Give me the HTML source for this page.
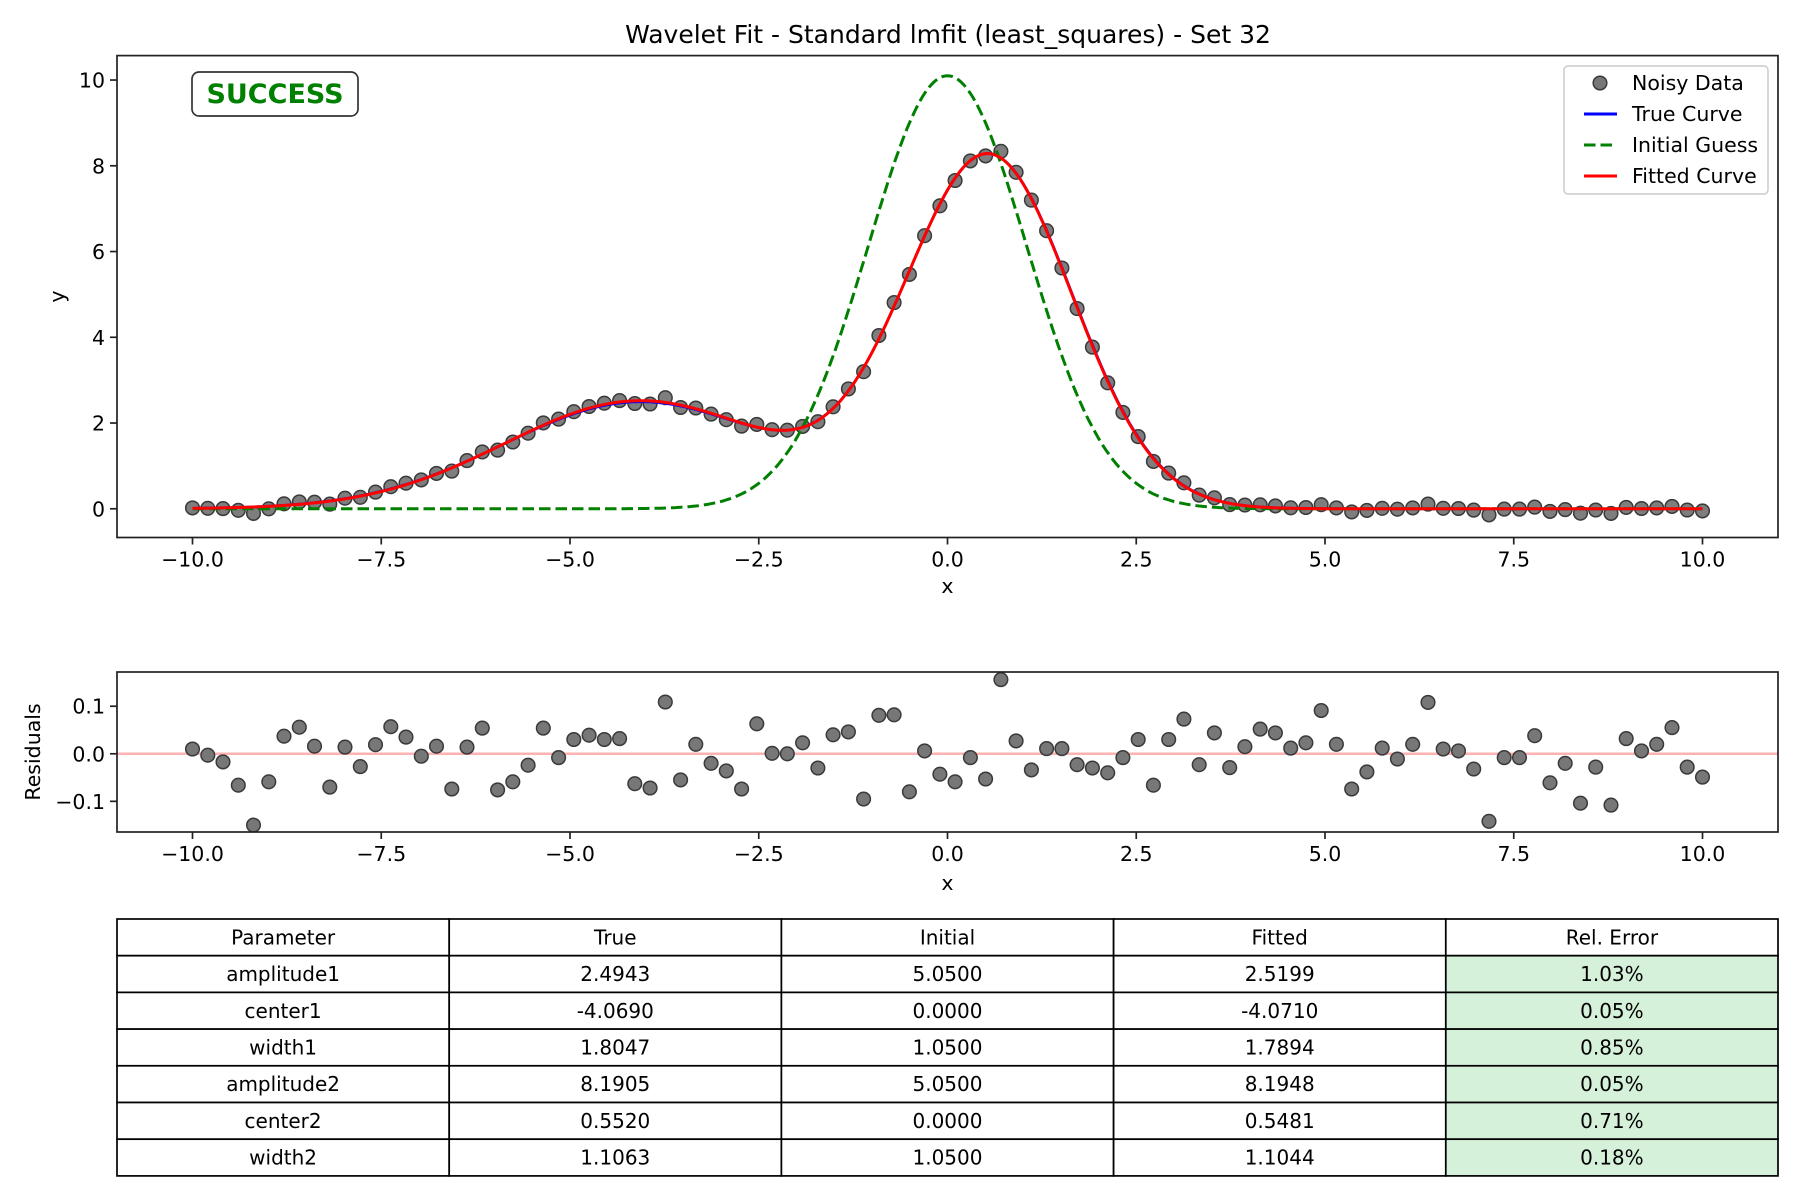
<!DOCTYPE html>
<html><head><meta charset="utf-8">
<style>
html,body{margin:0;padding:0;background:#fff;}
svg{display:block;font-family:"DejaVu Sans","Liberation Sans",sans-serif;}
</style></head>
<body>
<svg id="fig" width="1800" height="1200" viewBox="0 0 1800 1200" xmlns="http://www.w3.org/2000/svg">
<rect width="1800" height="1200" fill="#fff"/>
<text x="948" y="43" font-size="25" text-anchor="middle" fill="#000">Wavelet Fit - Standard lmfit (least_squares) - Set 32</text>
<g id="main"></g>
<g id="resid"></g>
<g id="table"></g>
</svg>
<script>
const paramNames = ["amplitude1","center1","width1","amplitude2","center2","width2"];
const trueParams = [2.4943,-4.0690,1.8047,8.1905,0.5520,1.1063];
const initParams = [5.0500,0.0000,1.0500,5.0500,0.0000,1.0500];
const fitParams = [2.5199,-4.0710,1.7894,8.1948,0.5481,1.1044];
const relErrors = ["1.03%","0.05%","0.85%","0.05%","0.71%","0.18%"];
const residuals = [0.010,-0.003,-0.017,-0.066,-0.150,-0.059,0.037,0.056,0.016,-0.070,
0.014,-0.027,0.019,0.057,0.035,-0.005,0.016,-0.074,0.014,0.054,
-0.076,-0.059,-0.024,0.054,-0.008,0.030,0.039,0.030,0.032,-0.063,
-0.072,0.109,-0.055,0.020,-0.020,-0.036,-0.074,0.063,0.001,0.000,
0.023,-0.030,0.040,0.046,-0.095,0.081,0.082,-0.080,0.006,-0.043,
-0.059,-0.008,-0.053,0.156,0.027,-0.034,0.011,0.011,-0.023,-0.030,
-0.040,-0.008,0.030,-0.066,0.030,0.073,-0.023,0.044,-0.029,0.015,
0.052,0.044,0.012,0.023,0.091,0.020,-0.074,-0.038,0.012,-0.011,
0.020,0.108,0.010,0.006,-0.032,-0.142,-0.008,-0.008,0.038,-0.061,
-0.020,-0.104,-0.028,-0.108,0.032,0.006,0.020,0.055,-0.028,-0.049];
const xTicks = [-10,-7.5,-5,-2.5,0,2.5,5,7.5,10];
const xTickLabels = ["\u221210.0","\u22127.5","\u22125.0","\u22122.5","0.0","2.5","5.0","7.5","10.0"];
const yTicks = [0,2,4,6,8,10];
const rTicks = [0.1,0,-0.1];
const rTickLabels = ["0.1","0.0","\u22120.1"];

const NS="http://www.w3.org/2000/svg";
function mk(parent,tag,attrs,text){const e=document.createElementNS(NS,tag);for(const k in attrs)e.setAttribute(k,attrs[k]);if(text!==undefined)e.textContent=text;parent.appendChild(e);return e;}
function model(p,x){return p[0]*Math.exp(-((x-p[1])**2)/(2*p[2]*p[2]))+p[3]*Math.exp(-((x-p[4])**2)/(2*p[5]*p[5]));}

const L=117,R=1778;
const sx=x=>L+(x+11)/22*(R-L);
const MT=55.6,MB=537.5,yMin=-0.67,yMax=10.57;
const sy=y=>MB-(y-yMin)/(yMax-yMin)*(MB-MT);
const RT=672,RB=832,rMin=-0.1645,rMax=0.172;
const sr=y=>RB-(y-rMin)/(rMax-rMin)*(RB-RT);

const n=residuals.length;
const xs=residuals.map((_,i)=>-10+i*20/(n-1));

const main=document.getElementById('main');
const gpts=mk(main,'g',{});


xs.forEach((x,i)=>{
  const c=mk(gpts,'circle',{cx:sx(x).toFixed(1),cy:sy(model(fitParams,x)+residuals[i]).toFixed(1),r:6.8,fill:'#777','fill-opacity':0.95,stroke:'#3a3a3a','stroke-width':1.5});
  
  
});
function curve(p,attrs,name){
  let d='';for(let i=0;i<=600;i++){const x=-10+i*20/600;d+=(i?'L':'M')+sx(x).toFixed(1)+' '+sy(model(p,x)).toFixed(1);}
  const e=mk(main,'path',Object.assign({d:d,fill:'none'},attrs));
  
  
}
curve(trueParams,{stroke:'#0000ff','stroke-width':2.6},'true-curve');
curve(initParams,{stroke:'#008000','stroke-width':3,'stroke-dasharray':'11.5 5'},'initial-guess-curve');
curve(fitParams,{stroke:'#ff0000','stroke-width':3},'fitted-curve');
const sp=mk(main,'rect',{x:L,y:MT,width:R-L,height:MB-MT,fill:'none',stroke:'#222','stroke-width':1.7});


xTicks.forEach((t,i)=>{
  mk(main,'line',{x1:sx(t),x2:sx(t),y1:MB,y2:MB+7,stroke:'#222','stroke-width':1.7});
  const tl=mk(main,'text',{x:sx(t),y:MB+29,'font-size':20.5,'text-anchor':'middle'},xTickLabels[i]);
  
  
});
yTicks.forEach(t=>{
  mk(main,'line',{x1:L-7,x2:L,y1:sy(t),y2:sy(t),stroke:'#222','stroke-width':1.7});
  const tl=mk(main,'text',{x:L-12,y:sy(t)+7.5,'font-size':20.5,'text-anchor':'end'},String(t));
  
  
});
const xl=mk(main,'text',{x:(L+R)/2,y:593,'font-size':20.5,'text-anchor':'middle'},'x');


const yl=mk(main,'text',{x:0,y:0,'font-size':20.5,'text-anchor':'middle',transform:`translate(64 ${(MT+MB)/2}) rotate(-90)`},'y');


const sb=mk(main,'g',{});


mk(sb,'rect',{x:192,y:72,width:166,height:44,rx:7,fill:'#fff',stroke:'#333','stroke-width':1.7});
mk(sb,'text',{x:275,y:103,'font-size':27,'font-weight':'bold','text-anchor':'middle',fill:'#008000'},'SUCCESS');
const lg=mk(main,'g',{});


mk(lg,'rect',{x:1564,y:66,width:204,height:128,rx:4,fill:'#fff','fill-opacity':0.8,stroke:'#ccc','stroke-width':1.5});
const legItems=[['Noisy Data','pt'],['True Curve','#0000ff'],['Initial Guess','#008000'],['Fitted Curve','#ff0000']];
legItems.forEach((it,i)=>{
  const y=83+i*31;
  const g=mk(lg,'g',{});
  
  
  if(it[1]==='pt'){mk(g,'circle',{cx:1600,cy:y,r:6.8,fill:'#777',stroke:'#3a3a3a','stroke-width':1.5});}
  else{mk(g,'line',{x1:1584,x2:1617,y1:y,y2:y,stroke:it[1],'stroke-width':3,'stroke-dasharray':i===2?'11.5 5':'none'});}
  mk(g,'text',{x:1632,y:y+7,'font-size':20.5},it[0]);
});

const rs=document.getElementById('resid');
const zl=mk(rs,'line',{x1:L,x2:R,y1:sr(0),y2:sr(0),stroke:'#ff0000','stroke-opacity':0.3,'stroke-width':2.5});


const rp=mk(rs,'g',{});


xs.forEach((x,i)=>{
  const c=mk(rp,'circle',{cx:sx(x).toFixed(1),cy:sr(residuals[i]).toFixed(1),r:6.8,fill:'#777',stroke:'#3a3a3a','stroke-width':1.5});
  
  
});
const rf=mk(rs,'rect',{x:L,y:RT,width:R-L,height:RB-RT,fill:'none',stroke:'#222','stroke-width':1.7});


xTicks.forEach((t,i)=>{
  mk(rs,'line',{x1:sx(t),x2:sx(t),y1:RB,y2:RB+7,stroke:'#222','stroke-width':1.7});
  const tl=mk(rs,'text',{x:sx(t),y:RB+29,'font-size':20.5,'text-anchor':'middle'},xTickLabels[i]);
  
  
});
rTicks.forEach((t,i)=>{
  mk(rs,'line',{x1:L-7,x2:L,y1:sr(t),y2:sr(t),stroke:'#222','stroke-width':1.7});
  const tl=mk(rs,'text',{x:L-12,y:sr(t)+7.5,'font-size':20.5,'text-anchor':'end'},rTickLabels[i]);
  
  
});
const rxl=mk(rs,'text',{x:(L+R)/2,y:890,'font-size':20.5,'text-anchor':'middle'},'x');


const ryl=mk(rs,'text',{x:0,y:0,'font-size':20.5,'text-anchor':'middle',transform:`translate(40 ${(RT+RB)/2}) rotate(-90)`},'Residuals');



const tb=document.getElementById('table');


const TT=919,RH=36.7,CW=(R-L)/5;
const header=['Parameter','True','Initial','Fitted','Rel. Error'];
const rows=[header].concat(paramNames.map((p,i)=>[p,trueParams[i].toFixed(4),initParams[i].toFixed(4),fitParams[i].toFixed(4),relErrors[i]]));
rows.forEach((row,r)=>{
  row.forEach((v,c)=>{
    const x=L+c*CW,y=TT+r*RH;
    const fill=(c===4&&r>0)?'#d6f1da':'#fff';
    const cell=mk(tb,'rect',{x:x,y:y,width:CW,height:RH,fill:fill,stroke:'#000','stroke-width':1.7});
    
    
    mk(tb,'text',{x:x+CW/2,y:y+RH/2+7,'font-size':20,'text-anchor':'middle'},v);
  });
});
</script>
</body></html>
